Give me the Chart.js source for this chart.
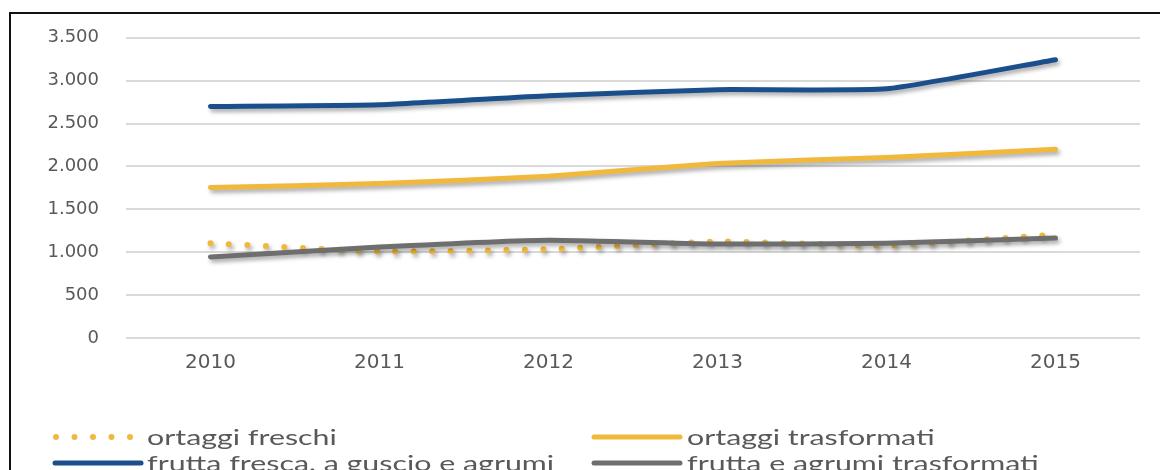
<!DOCTYPE html>
<html>
<head>
<meta charset="utf-8">
<script src="https://cdn.jsdelivr.net/npm/chart.js@4/dist/chart.umd.min.js"></script>
<style>
  html, body { margin: 0; padding: 0; background: #fff; overflow: hidden; }
  #wrap { position: relative; width: 1160px; height: 470px; }
  #frame { position: absolute; left: 9px; top: 12px; width: 1200px; height: 500px;
           border-left: 2px solid #111; border-top: 2px solid #111; pointer-events: none; }
  canvas { position: absolute; left: 0; top: 0; }
</style>
</head>
<body>
<div id="wrap">
  <canvas id="chart" width="1160" height="470"></canvas>
  <div id="frame"></div>
</div>
<script>
const years = ['2010', '2011', '2012', '2013', '2014', '2015'];
const ortaggiFreschi = [1105, 1010, 1035, 1125, 1080, 1205];
const ortaggiTrasformati = [1755, 1800, 1885, 2035, 2105, 2200];
const fruttaFresca = [2700, 2720, 2825, 2895, 2905, 3245];
const fruttaTrasformati = [945, 1060, 1140, 1095, 1105, 1165];
const yTicks = [0, 500, 1000, 1500, 2000, 2500, 3000, 3500];

const YELLOW = '#f0b93c';
const BLUE = '#1a4f8b';
const GREY = '#6e6e6e';
const TEXT = '#595959';

function fmt(v) {
    return String(v).replace(/\B(?=(\d{3})+(?!\d))/g, '.');
}

// soft drop shadow under the lines, like the excel original
const shadow = {
    id: 'shadow',
    beforeDatasetsDraw(chart) {
        const c = chart.ctx;
        c.save();
        c.shadowColor = 'rgba(0,0,0,0.35)';
        c.shadowBlur = 4;
        c.shadowOffsetX = 2;
        c.shadowOffsetY = 3;
    },
    afterDatasetsDraw(chart) {
        chart.ctx.restore();
    }
};

// two-column legend under the plot
const legend2 = {
    id: 'legend2',
    afterDraw(chart) {
        const c = chart.ctx;
        const ds = chart.data.datasets;
        const slots = [
            { x: 56, y: 437, len: 76, gap: 15 },
            { x: 594, y: 437, len: 86, gap: 7 },
            { x: 55, y: 463, len: 86, gap: 6 },
            { x: 594, y: 463, len: 86, gap: 7 }
        ];
        ds.forEach((d, i) => {
            const s = slots[i];
            c.save();
            c.strokeStyle = d.borderColor;
            c.lineWidth = d.borderWidth;
            c.lineCap = 'round';
            c.setLineDash(d.borderDash || []);
            c.beginPath();
            c.moveTo(s.x, s.y);
            c.lineTo(s.x + s.len, s.y);
            c.stroke();
            c.restore();

            c.save();
            c.fillStyle = TEXT;
            c.font = '22px Lato';
            c.textBaseline = 'middle';
            c.translate(s.x + s.len + s.gap, s.y + 1);
            c.scale(1.38, 1);
            c.fillText(d.label, 0, 0);
            c.restore();
        });
    }
};

const ctx = document.getElementById('chart').getContext('2d');
new Chart(ctx, {
    type: 'line',
    data: {
        labels: years,
        datasets: [
            {
                label: 'ortaggi freschi',
                data: ortaggiFreschi,
                borderColor: YELLOW,
                borderWidth: 6,
                borderDash: [0, 18.5],
                borderCapStyle: 'round',
                order: 3
            },
            {
                label: 'ortaggi trasformati',
                data: ortaggiTrasformati,
                borderColor: YELLOW,
                borderWidth: 5,
                borderCapStyle: 'round',
                order: 2
            },
            {
                label: 'frutta fresca, a guscio e agrumi',
                data: fruttaFresca,
                borderColor: BLUE,
                borderWidth: 5,
                borderCapStyle: 'round',
                order: 1
            },
            {
                label: 'frutta e agrumi trasformati',
                data: fruttaTrasformati,
                borderColor: GREY,
                borderWidth: 5,
                borderCapStyle: 'round',
                order: 0
            }
        ]
    },
    options: {
        responsive: false,
        animation: false,
        devicePixelRatio: 1,
        elements: {
            point: { radius: 0, hoverRadius: 0 },
            line: { tension: 0.15, fill: false }
        },
        layout: { padding: { top: 37, left: 0, right: 20, bottom: 84 } },
        plugins: {
            legend: { display: false },
            tooltip: { enabled: false }
        },
        scales: {
            x: {
                offset: true,
                grid: { display: false, drawTicks: false },
                border: { display: false },
                ticks: {
                    color: TEXT,
                    padding: 13,
                    font: { family: 'DejaVu Sans', size: 20 }
                },
                afterFit(scale) { scale.height = 48; }
            },
            y: {
                min: 0,
                max: 3500,
                afterBuildTicks(scale) { scale.ticks = yTicks.map(v => ({ value: v })); },
                grid: { color: '#d9d9d9', lineWidth: 2, drawTicks: false },
                border: { display: false },
                ticks: {
                    color: TEXT,
                    padding: 27,
                    font: { family: 'DejaVu Sans', size: 18 },
                    callback: v => fmt(v)
                },
                afterFit(scale) { scale.width = 126; }
            }
        }
    },
    plugins: [shadow, legend2]
});
</script>
</body>
</html>
